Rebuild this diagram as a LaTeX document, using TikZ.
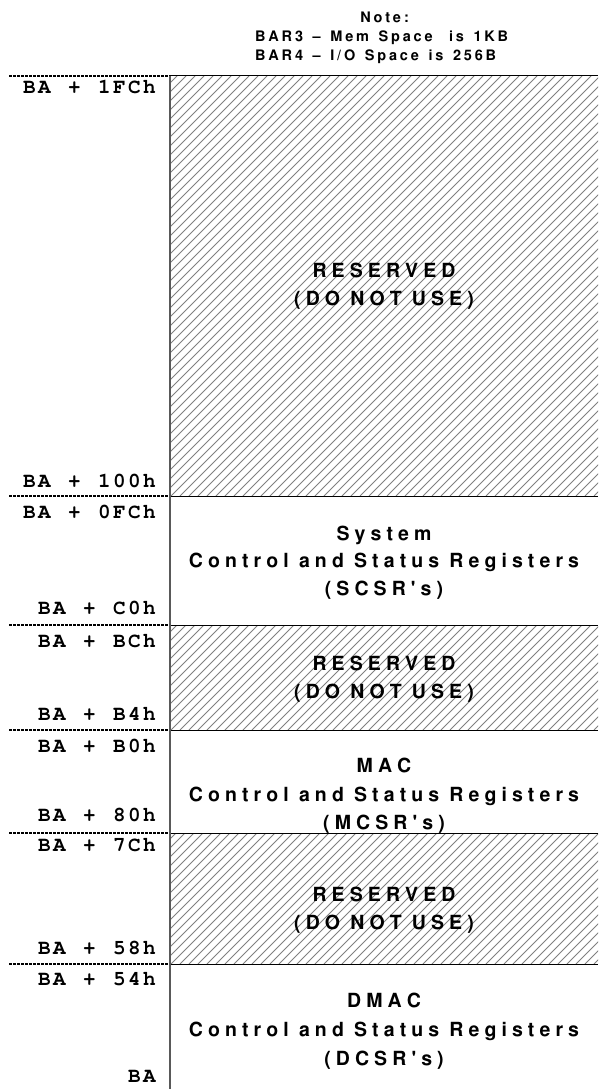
\documentclass[tikz,border=0pt]{standalone}
\usepackage{fontspec}
\newcommand\lblfont{\fontencoding{OT1}\fontfamily{pcr}\fontseries{b}\fontshape{n}\fontsize{21}{21}\selectfont}
\newcommand\blkfont{\fontencoding{OT1}\fontfamily{phv}\fontseries{b}\fontshape{n}\fontsize{19.5}{24}\selectfont}
\newcommand\notefnt{\fontencoding{OT1}\fontfamily{phv}\fontseries{b}\fontshape{n}\fontsize{14.5}{18}\selectfont}
\makeatletter
\newcommand\spaced[2]{\@tfor\spc@c:=#2\do{\spc@c\kern#1}\kern-#1}
\makeatother
% narrow word gap used inside letter-spaced block titles
\newcommand\wg{\kern0pt}
\newcommand\hatchzone[2]{%
  \begin{scope}
    \clip (170,#1) rectangle (598,#2);
    \foreach \k in {0,...,110}{
      \draw[hatchline] ({170-440+9*\k},#2) -- ({170-440+9*\k+(#2-#1)},#1);
    }
  \end{scope}}
\begin{document}
\begin{tikzpicture}[x=1pt,y=-1pt,
  hatchline/.style={draw=gray, line width=0.8pt},
  lbl/.style={font=\lblfont, anchor=base east, inner sep=0pt},
  blk/.style={font=\blkfont, anchor=base, inner sep=0pt},
  notetxt/.style={font=\notefnt, anchor=base, inner sep=0pt},
  sep/.style={draw=black, line width=1pt},
  dots/.style={draw=black, line width=1.3pt, dash pattern=on 2.5pt off 1.5pt},
  axis/.style={draw=gray!70!black, line width=1.5pt}]
\useasboundingbox (0,0) rectangle (598,1089);
\fill[white] (0,0) rectangle (598,1089);

% hatched reserved zones
\hatchzone{76}{496}
\hatchzone{625}{730}
\hatchzone{833}{964}

% separators
\foreach \y in {76,496,625,730,833,964}{
  \draw[sep] (170,\y) -- (598,\y);
  \draw[dots] (9,\y) -- (170,\y);
}
\coordinate (axtop) at (170,76);
\coordinate (axbot) at (170,1089);
\draw[axis] (axtop) -- (axbot);

% note
\node[notetxt] (note0) at (384.5,23) {\spaced{2.8pt}{Note:}};
\node[notetxt, anchor=base west] (note1) at (255,42) {\spaced{2.8pt}{BAR3~\textendash~Mem~Space~~is~1KB}};
\node[notetxt, anchor=base west] (note2) at (255,61) {\spaced{2.8pt}{BAR4~\textendash~I/O~Space~is~256B}};

% address labels
\node[lbl] (a1) at (156,94) {\spaced{2.4pt}{BA~+~1FCh}};
\node[lbl] (a2) at (156,487) {\spaced{2.4pt}{BA~+~100h}};
\node[lbl] (a3) at (156,518) {\spaced{2.4pt}{BA~+~0FCh}};
\node[lbl] (a4) at (156,614) {\spaced{2.4pt}{BA~+~C0h}};
\node[lbl] (a5) at (156,647) {\spaced{2.4pt}{BA~+~BCh}};
\node[lbl] (a6) at (156,720) {\spaced{2.4pt}{BA~+~B4h}};
\node[lbl] (a7) at (156,752) {\spaced{2.4pt}{BA~+~B0h}};
\node[lbl] (a8) at (156,821) {\spaced{2.4pt}{BA~+~80h}};
\node[lbl] (a9) at (156,851) {\spaced{2.4pt}{BA~+~7Ch}};
\node[lbl] (a10) at (156,954) {\spaced{2.4pt}{BA~+~58h}};
\node[lbl] (a11) at (156,985) {\spaced{2.4pt}{BA~+~54h}};
\node[lbl] (a12) at (156,1082) {\spaced{2.4pt}{BA}};

% block texts
\node[blk] (r1a) at (384,277) {\spaced{5.1pt}{RESERVED}};
\node[blk] (r1b) at (384,305) {\spaced{5.1pt}{(DO\wg NOT\wg USE)}};

\node[blk] (s1) at (384,540) {\spaced{5.1pt}{System}};
\node[blk] (s2) at (384,567) {\spaced{5.1pt}{Control\wg and\wg Status\wg Registers}};
\node[blk] (s3) at (384,595) {\spaced{5.1pt}{(SCSR\textquotesingle s)}};

\node[blk] (r2a) at (384,670) {\spaced{5.1pt}{RESERVED}};
\node[blk] (r2b) at (384,698) {\spaced{5.1pt}{(DO\wg NOT\wg USE)}};

\node[blk] (m1) at (384,772) {\spaced{5.1pt}{MAC}};
\node[blk] (m2) at (384,801) {\spaced{5.1pt}{Control\wg and\wg Status\wg Registers}};
\node[blk] (m3) at (384,829) {\spaced{5.1pt}{(MCSR\textquotesingle s)}};

\node[blk] (r3a) at (384,901) {\spaced{5.1pt}{RESERVED}};
\node[blk] (r3b) at (384,929) {\spaced{5.1pt}{(DO\wg NOT\wg USE)}};

\node[blk] (d1) at (384,1007) {\spaced{5.1pt}{DMAC}};
\node[blk] (d2) at (384,1036) {\spaced{5.1pt}{Control\wg and\wg Status\wg Registers}};
\node[blk] (d3) at (384,1065) {\spaced{5.1pt}{(DCSR\textquotesingle s)}};
\end{tikzpicture}
\end{document}
